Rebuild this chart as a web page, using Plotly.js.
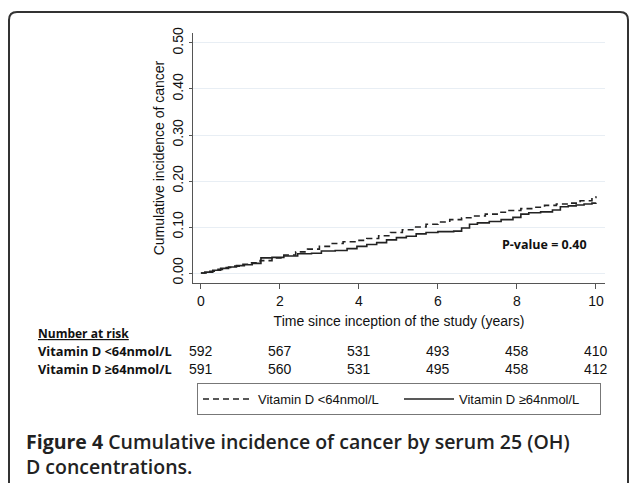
<!DOCTYPE html>
<html>
<head>
<meta charset="utf-8">
<script src="https://cdn.plot.ly/plotly-3.0.1.min.js"></script>
<style>html,body{margin:0;padding:0;background:#fff;}#chart{width:629px;height:483px;}</style>
</head>
<body>
<div id="chart"></div>
<script>
// ---- data ----
var groupNames = ["Vitamin D <64nmol/L", "Vitamin D \u226564nmol/L"];
var lowTime = [0, 0.2, 0.4, 0.6, 0.8, 1.0, 1.2, 1.5, 1.8, 2.1, 2.4, 2.7, 3.0, 3.3, 3.6, 3.9, 4.2, 4.5, 4.8, 5.1, 5.4, 5.7, 6.0, 6.3, 6.6, 6.9, 7.2, 7.5, 7.8, 8.1, 8.4, 8.7, 9.0, 9.3, 9.6, 9.9, 10];
var lowInc  = [0, 0.004, 0.008, 0.012, 0.015, 0.019, 0.022, 0.027, 0.033, 0.039, 0.046, 0.052, 0.058, 0.064, 0.068, 0.071, 0.075, 0.081, 0.088, 0.094, 0.100, 0.106, 0.111, 0.116, 0.120, 0.124, 0.128, 0.132, 0.136, 0.140, 0.143, 0.147, 0.150, 0.152, 0.157, 0.164, 0.167];
var highTime = [0, 0.1, 0.3, 0.5, 0.7, 0.9, 1.1, 1.3, 1.52, 1.8, 2.1, 2.45, 2.8, 3.05, 3.4, 3.7, 3.95, 4.2, 4.45, 4.7, 4.95, 5.2, 5.45, 5.7, 6.0, 6.4, 6.6, 6.8, 7.0, 7.3, 7.6, 7.9, 8.1, 8.3, 8.6, 8.9, 9.1, 9.3, 9.5, 9.7, 9.9, 10];
var highInc  = [0, 0.002, 0.006, 0.010, 0.013, 0.016, 0.018, 0.021, 0.033, 0.034, 0.037, 0.042, 0.043, 0.048, 0.049, 0.053, 0.058, 0.062, 0.066, 0.072, 0.077, 0.080, 0.085, 0.088, 0.090, 0.091, 0.098, 0.106, 0.109, 0.112, 0.116, 0.121, 0.128, 0.131, 0.133, 0.137, 0.144, 0.146, 0.148, 0.150, 0.152, 0.153];
var riskTimes = [0, 2, 4, 6, 8, 10];
var riskLow  = [592, 567, 531, 493, 458, 410];
var riskHigh = [591, 560, 531, 495, 458, 412];
var yTicks = [0, 0.1, 0.2, 0.3, 0.4, 0.5];
var xTicks = [0, 2, 4, 6, 8, 10];
var pValueText = "P-value = 0.40";

// ---- layout helpers (pixel -> paper) ----
var L = 193, R = 24, T = 33, B = 200, W = 629, H = 483;
var pw = W - L - R, ph = H - T - B;
function pxX(x) { return (x - L) / pw; }
function pxY(y) { return (H - B - y) / ph; }

var axisFont = {family: "Liberation Sans, Arial, sans-serif", size: 14, color: "#111"};
var headFont = {family: "Open Sans, sans-serif", size: 12, color: "#111", weight: 700};
var rowFont = {family: "Open Sans, sans-serif", size: 12.8, color: "#111", weight: 700};

var traces = [
  {x: lowTime, y: lowInc, name: groupNames[0], type: "scatter", mode: "lines",
   line: {shape: "hv", color: "#222", width: 1.6, dash: "6px,4px"}},
  {x: highTime, y: highInc, name: groupNames[1], type: "scatter", mode: "lines",
   line: {shape: "hv", color: "#222", width: 1.6}}
];

var ann = [];
ann.push({xref: "paper", yref: "paper", x: pxX(36), y: pxY(333), xanchor: "left", yanchor: "middle",
  text: "<b><u>Number at risk</u></b>", showarrow: false, font: headFont});
ann.push({xref: "paper", yref: "paper", x: pxX(36), y: pxY(351), xanchor: "left", yanchor: "middle",
  text: "<b>" + groupNames[0] + "</b>", showarrow: false, font: rowFont});
ann.push({xref: "paper", yref: "paper", x: pxX(36), y: pxY(369), xanchor: "left", yanchor: "middle",
  text: "<b>" + groupNames[1] + "</b>", showarrow: false, font: rowFont});
for (var i = 0; i < riskTimes.length; i++) {
  ann.push({xref: "x", yref: "paper", x: riskTimes[i], y: pxY(351), xanchor: "center", yanchor: "middle",
    text: String(riskLow[i]), showarrow: false, font: axisFont});
  ann.push({xref: "x", yref: "paper", x: riskTimes[i], y: pxY(369), xanchor: "center", yanchor: "middle",
    text: String(riskHigh[i]), showarrow: false, font: axisFont});
}
ann.push({xref: "paper", yref: "paper", x: pxX(589), y: pxY(244), xanchor: "right", yanchor: "middle",
  text: "<b>" + pValueText + "</b>", showarrow: false, font: {family: "Open Sans, sans-serif", size: 12.5, color: "#111", weight: 700}});
ann.push({xref: "paper", yref: "paper", x: pxX(24), y: pxY(454), xanchor: "left", yanchor: "middle", align: "left",
  text: "<b>Figure 4</b> Cumulative incidence of cancer by serum 25 (OH)<br>D concentrations.",
  showarrow: false, font: {family: "Open Sans, sans-serif", size: 19.5, color: "#222", weight: 600}});

// frame (rounded border)
var x0 = 9, y0 = 12, x1 = 628, rr = 8, yb = 500;
var framePath = "M " + pxX(x0) + "," + pxY(yb) +
  " L " + pxX(x0) + "," + pxY(y0 + rr) +
  " Q " + pxX(x0) + "," + pxY(y0) + " " + pxX(x0 + rr) + "," + pxY(y0) +
  " L " + pxX(x1 - rr) + "," + pxY(y0) +
  " Q " + pxX(x1) + "," + pxY(y0) + " " + pxX(x1) + "," + pxY(y0 + rr) +
  " L " + pxX(x1) + "," + pxY(yb);

var layout = {
  width: W, height: H,
  margin: {l: L, r: R, t: T, b: B},
  paper_bgcolor: "#fff", plot_bgcolor: "#fff",
  showlegend: true,
  legend: {orientation: "h", x: pxX(197), y: pxY(383), xanchor: "left", yanchor: "top",
    bordercolor: "#777", borderwidth: 1, itemwidth: 50, entrywidth: 136,
    font: {family: "Liberation Sans, Arial, sans-serif", size: 13, color: "#111"}},
  xaxis: {range: [-0.2, 10.23], tickvals: xTicks, ticktext: xTicks.map(String),
    showgrid: false, zeroline: false, showline: true, linecolor: "#555", linewidth: 1,
    ticks: "outside", ticklen: 5, tickcolor: "#555", tickfont: axisFont,
    title: {text: "Time since inception of the study (years)", font: axisFont, standoff: 8},
    automargin: false},
  yaxis: {range: [-0.0217, 0.5217], tickvals: yTicks, ticktext: yTicks.map(function(v){return v.toFixed(2);}),
    tickangle: -90, showgrid: true, gridcolor: "#e8eef4", gridwidth: 1, zeroline: false,
    showline: true, linecolor: "#555", linewidth: 1,
    ticks: "outside", ticklen: 3, tickcolor: "#555", tickfont: axisFont,
    title: {text: "Cumulative incidence of cancer", font: axisFont, standoff: 2},
    automargin: false},
  annotations: ann,
  shapes: [{type: "path", xref: "paper", yref: "paper", path: framePath,
    line: {color: "#333", width: 2}}]
};

Plotly.newPlot("chart", traces, layout, {displayModeBar: false, staticPlot: true});
</script>
</body>
</html>
